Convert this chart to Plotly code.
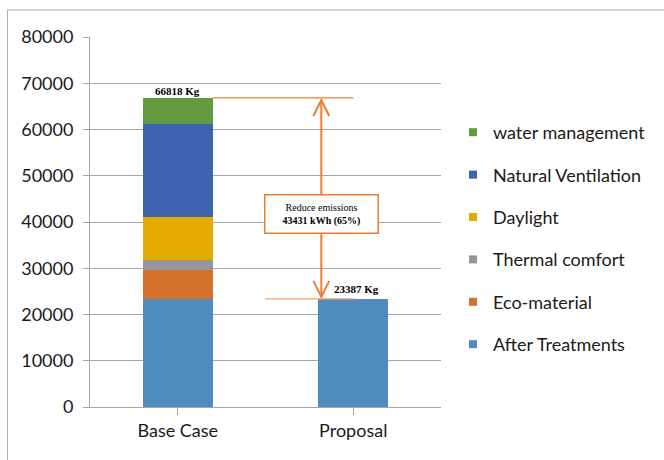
import plotly.graph_objects as go

# Emission totals per scenario (kg)
categories = ["Base Case", "Proposal"]
series_names = ["After Treatments", "Eco-material", "Thermal comfort",
                "Daylight", "Natural Ventilation", "water management"]
after_treatments = [23387, 23387]
eco_material = [6213, 0]
thermal_comfort = [2150, 0]
daylight = [9300, 0]
natural_ventilation = [20150, 0]
water_management = [5618, 0]
colors = ["#4F8BBE", "#D4702A", "#969696", "#E3AA00", "#3D64AE", "#629A3F"]

base_total = 66818
proposal_total = 23387
reduction = 43431
reduction_pct = 65

values = [after_treatments, eco_material, thermal_comfort,
          daylight, natural_ventilation, water_management]

FONT = "Lato"
ORANGE = "#ED7D31"
LIGHT_ORANGE = "#F4B183"

fig = go.Figure()
for name, vals, col in zip(series_names, values, colors):
    fig.add_trace(go.Bar(
        x=list(range(len(categories))), y=vals, name=name,
        marker=dict(color=col, line=dict(width=0)),
        width=0.40, showlegend=False,
    ))

# legend entries with small square swatches, top series first
for rank, (name, col) in enumerate(zip(series_names[::-1], colors[::-1])):
    fig.add_trace(go.Scatter(
        x=[None], y=[None], mode="markers", name=name, legendgroup=name,
        legendrank=rank + 1,
        marker=dict(symbol="square", size=8, color=col),
    ))

# pixel-to-data helpers for the arrow decoration
plot_w, plot_h = 353, 370
y_max = 80000
px_x = 2 / plot_w          # category units per pixel
px_y = y_max / plot_h      # data units per pixel

arrow_x = 0.818
head_dx = 8 * px_x
head_dy = 16 * px_y
top_tip = base_total - 2 * px_y
bot_tip = proposal_total + 2 * px_y

shapes = [
    # outer frame
    dict(type="rect", xref="paper", yref="paper",
         x0=-0.235, x1=1.7, y0=-0.2, y1=1.073,
         line=dict(color="#B0B0B0", width=1), fillcolor="rgba(0,0,0,0)", layer="below"),
    # top reference line
    dict(type="line", xref="x", yref="y", x0=0.2, x1=1.0,
         y0=base_total, y1=base_total, line=dict(color=ORANGE, width=1.2)),
    # bottom reference line
    dict(type="line", xref="x", yref="y", x0=0.5, x1=1.0,
         y0=proposal_total, y1=proposal_total, line=dict(color=LIGHT_ORANGE, width=1.5)),
    # vertical double arrow
    dict(type="line", xref="x", yref="y", x0=arrow_x, x1=arrow_x,
         y0=bot_tip, y1=top_tip, line=dict(color=ORANGE, width=2)),
    dict(type="path", xref="x", yref="y",
         path=(f"M{arrow_x - head_dx},{top_tip - head_dy} "
               f"L{arrow_x},{top_tip} L{arrow_x + head_dx},{top_tip - head_dy}"),
         line=dict(color=ORANGE, width=2)),
    dict(type="path", xref="x", yref="y",
         path=(f"M{arrow_x - head_dx},{bot_tip + head_dy} "
               f"L{arrow_x},{bot_tip} L{arrow_x + head_dx},{bot_tip + head_dy}"),
         line=dict(color=ORANGE, width=2)),
]

annotations = [
    dict(x=0, y=base_total, xref="x", yref="y", text=f"<b>{base_total} Kg</b>",
         showarrow=False, yanchor="bottom", yshift=-1,
         font=dict(family="Liberation Serif", size=11, color="#000")),
    dict(x=1.02, y=proposal_total, xref="x", yref="y", text=f"<b>{proposal_total} Kg</b>",
         showarrow=False, yanchor="bottom", xanchor="center", yshift=2,
         font=dict(family="Liberation Serif", size=11, color="#000")),
    dict(x=arrow_x, y=(46486 + 37189) / 2, xref="x", yref="y",
         text=f"Reduce emissions<br><b>{reduction} kWh ({reduction_pct}%)</b>",
         showarrow=False, bgcolor="white", bordercolor=ORANGE, borderwidth=1.5,
         borderpad=6, width=100, align="center",
         font=dict(family="Liberation Serif", size=10, color="#000")),
]

fig.update_layout(
    width=664, height=460,
    margin=dict(l=90, r=221, t=37, b=53),
    paper_bgcolor="white", plot_bgcolor="white",
    barmode="stack", bargap=0,
    font=dict(family=FONT, size=18, color="#1a1a1a"),
    showlegend=True,
    legend=dict(
        xref="container", yref="container",
        x=453 / 664, y=1 - 114 / 460, xanchor="left", yanchor="top",
        traceorder="grouped", tracegroupgap=16, itemwidth=30, maxheight=420,
        font=dict(family=FONT, size=18, color="#1a1a1a"),
        bgcolor="rgba(0,0,0,0)", itemclick=False,
    ),
    shapes=shapes,
    annotations=annotations,
)
fig.update_xaxes(
    tickmode="array", tickvals=list(range(len(categories))), ticktext=categories,
    range=[-0.5, 1.5], showgrid=False, showline=True, linecolor="#A6A6A6",
    linewidth=1, ticks="outside", tickson="boundaries", ticklen=7, tickcolor="#A6A6A6",
    tickfont=dict(family=FONT, size=18), zeroline=False,
)
fig.update_yaxes(
    range=[0, y_max], dtick=10000, showgrid=True, gridcolor="#A6A6A6", gridwidth=1,
    showline=True, linecolor="#A6A6A6", ticks="outside", ticklen=6, tickcolor="#A6A6A6",
    ticklabelstandoff=6,
    tickfont=dict(family=FONT, size=18), zeroline=False, tickformat="d",
)

fig.write_html("out.html")
